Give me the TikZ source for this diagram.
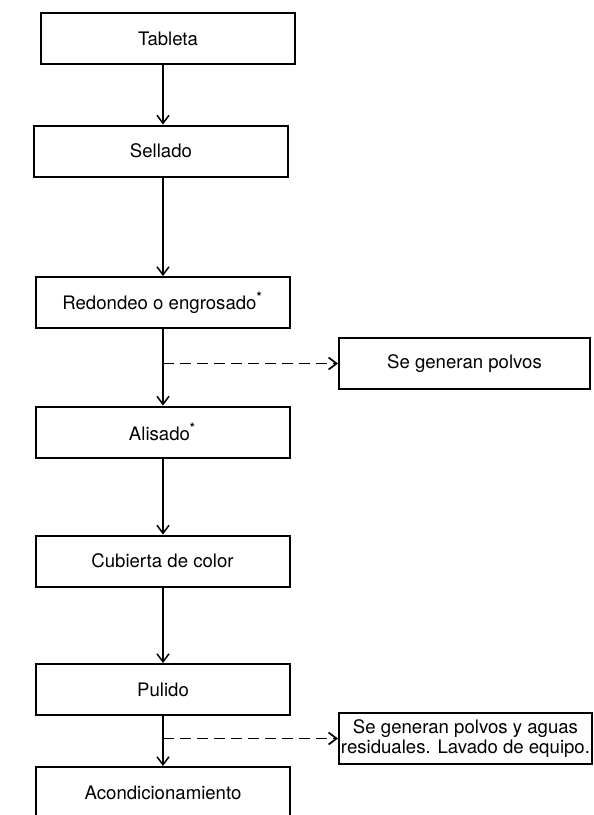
\documentclass[tikz,border=0pt]{standalone}
\usepackage{fontspec}
\setmainfont{TeX Gyre Heros}
\usepackage{tikz}
\usetikzlibrary{arrows.meta}
\newcommand{\nota}{\textsuperscript{\textbf{*}}}
\tikzset{caja/.style={draw, line width=1pt, minimum width=127pt, minimum height=25.5pt, inner sep=1pt, font=\fontsize{9.3}{9.8}\selectfont},
  flecha/.style={line width=0.75pt, -{Straight Barb[length=4pt,width=6pt]}},
  residuo/.style={flecha, line width=0.85pt, dash pattern=on 5.5pt off 3pt}}

\begin{document}
\begin{tikzpicture}[x=0.5pt,y=-0.5pt]
\useasboundingbox (0,0) rectangle (594,815);
% proceso principal
\node[caja] (tab) at (168,38.5) {Tableta};
\node[caja] (sel) at (161,151) {Sellado};
\node[caja] (red) at (162.5,302.5) {Redondeo o engrosado\nota};
\node[caja] (ali) at (162.5,432) {Alisado\nota};
\node[caja] (cub) at (162.5,561) {Cubierta de color};
\node[caja] (pul) at (163,689.5) {Pulido};
\node[caja] (aco) at (163,792.5) {Acondicionamiento};
% residuos
\node[caja, minimum width=125.5pt] (pol) at (464.5,363.5) {Se generan polvos};
\node[caja, minimum width=126.5pt, align=center, inner xsep=0.3pt] (agu) at (465.5,738.5) {Se generan polvos y aguas\\residuales. Lavado de equipo.};
\coordinate (eje) at (163,0);
\draw[flecha] (tab.south -| eje) -- (sel.north -| eje);
\draw[flecha] (sel.south -| eje) -- (red.north -| eje);
\draw[flecha] (red.south -| eje) -- (ali.north -| eje);
\draw[flecha] (ali.south -| eje) -- (cub.north -| eje);
\draw[flecha] (cub.south -| eje) -- (pul.north -| eje);
\draw[flecha] (pul.south -| eje) -- (aco.north -| eje);
\draw[residuo] (eje |- pol.west) -- (pol.west);
\draw[residuo] (eje |- agu.west) -- (agu.west);
\end{tikzpicture}
\end{document}
